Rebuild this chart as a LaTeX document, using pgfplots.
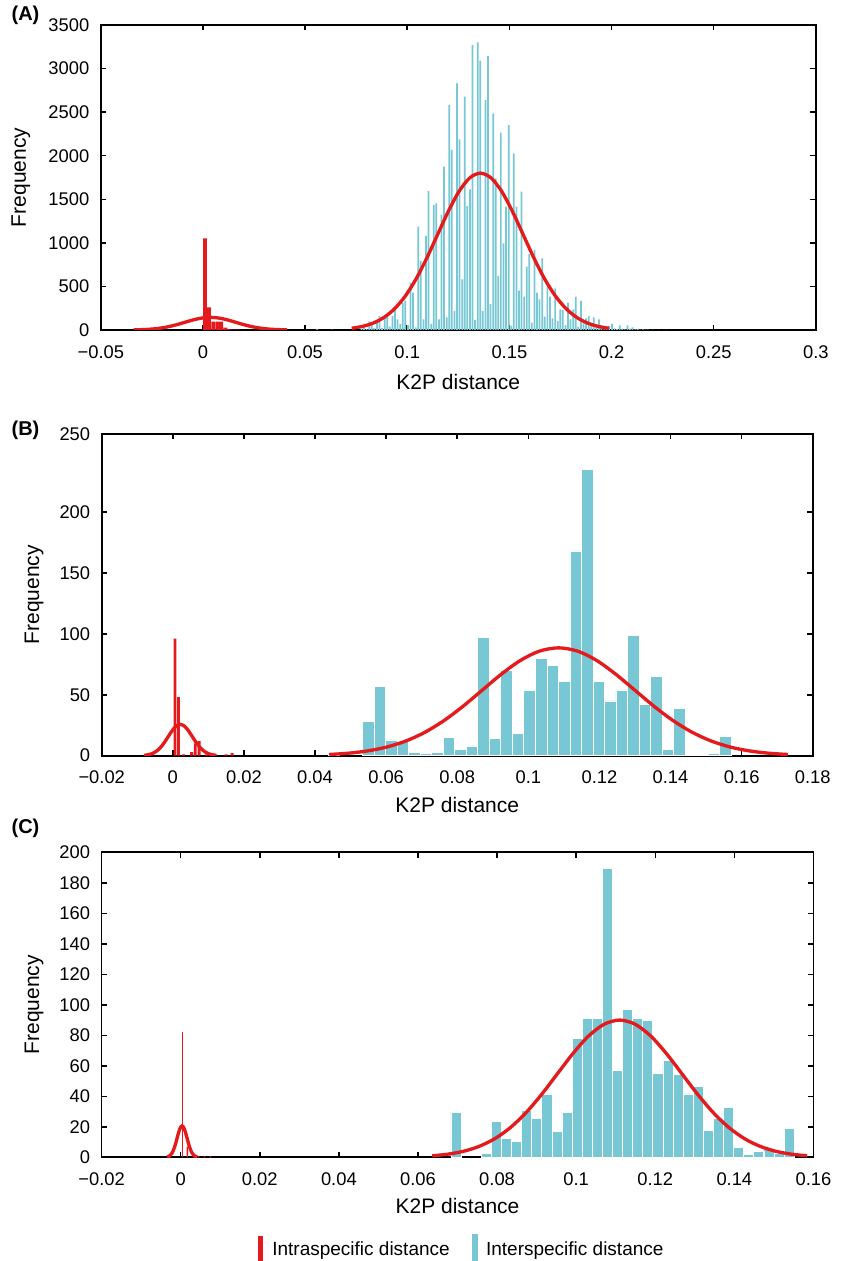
\documentclass[border=0pt]{standalone}
\usepackage{fontspec}
\setmainfont{Liberation Sans}
\usepackage{pgfplots}
\pgfplotsset{compat=1.18}
\definecolor{redc}{RGB}{228,26,28}
\definecolor{cyanc}{RGB}{120,199,212}
\pgfplotsset{
  panel/.style={
    scale only axis,
    anchor=north west,
    axis line style={line width=1pt},
    every tick/.style={black, line width=0.9pt},
    major tick length=3.2pt,
    tick align=inside,
    tick pos=both,
    ymin=0,
    tick label style={font=\fontsize{11}{13}\selectfont},
    label style={font=\fontsize{12.6}{15}\selectfont},
    yticklabel style={xshift=-3.4pt},
    xticklabel style={yshift=-5.7pt},
    xlabel={K2P distance}, ylabel={Frequency},
  },
  fitcurve/.style={redc, line width=2pt, smooth},
}
\begin{document}
\begin{tikzpicture}
\path[use as bounding box] (0,0) rectangle (505.2pt,-756.6pt);
% ---------------- (A)
\begin{axis}[panel, at={(60.48pt,-15pt)}, width=429pt, height=183pt,
  xmin=-0.05, xmax=0.3, ymax=3500,
  xtick={-0.05,0,0.05,0.1,0.15,0.2,0.25,0.3},
  xticklabels={−0.05,0,0.05,0.1,0.15,0.2,0.25,0.3},
  ytick={0,500,1000,1500,2000,2500,3000,3500},
  yticklabels={0,500,1000,1500,2000,2500,3000,3500},
  xlabel style={at={(axis description cs:0.5,-0.1705)}, anchor=center},
  ylabel style={at={(axis description cs:-0.1119,0.5)}, anchor=center},
]
\addplot[ybar, bar shift=0pt, bar width=0.00085, fill=cyanc, draw=none] coordinates {
(0.05600,10) (0.06300,5) (0.07759,15) (0.07885,27) (0.08012,10) (0.08138,100) (0.08264,75) (0.08391,20) (0.08517,100) (0.08644,160) (0.08770,20) (0.08896,145) (0.09023,160) (0.09149,38) (0.09276,160) (0.09402,237) (0.09528,122) (0.09655,69) (0.09781,314) (0.09908,333) (0.10034,57) (0.10160,543) (0.10287,428) (0.10413,31) (0.10540,1186) (0.10666,792) (0.10792,122) (0.10919,1079) (0.11045,1595) (0.11172,69) (0.11298,1434) (0.11424,1453) (0.11551,122) (0.11677,1320) (0.11804,1874) (0.11930,145) (0.12056,2582) (0.12183,2066) (0.12309,218) (0.12436,2831) (0.12562,2188) (0.12688,581) (0.12815,2678) (0.12941,1423) (0.13068,1614) (0.13194,3270) (0.13320,115) (0.13447,3301) (0.13573,3091) (0.13700,218) (0.13826,2639) (0.13952,3144) (0.14079,298) (0.14205,2486) (0.14332,1740) (0.14458,620) (0.14584,2264) (0.14711,994) (0.14837,1415) (0.14964,2352) (0.15090,46) (0.15216,2027) (0.15343,1415) (0.15469,451) (0.15596,1587) (0.15722,382) (0.15848,727) (0.15975,872) (0.16101,84) (0.16228,918) (0.16354,428) (0.16480,352) (0.16607,822) (0.16733,153) (0.16860,497) (0.16986,382) (0.17112,134) (0.17239,478) (0.17365,103) (0.17492,237) (0.17618,230) (0.17744,57) (0.17871,314) (0.17997,122) (0.18124,237) (0.18250,382) (0.18376,38) (0.18503,333) (0.18629,77) (0.18756,134) (0.18882,160) (0.19008,46) (0.19135,145) (0.19261,57) (0.19388,122) (0.19514,27) (0.19640,8) (0.19767,38) (0.19893,46) (0.20020,69) (0.20146,19) (0.20272,10) (0.20399,54) (0.20525,15) (0.20652,8) (0.20778,54) (0.20904,15) (0.21031,30) (0.21157,8) (0.21284,12) (0.21410,5) (0.21536,8) (0.21663,3) (0.21789,4) (0.22042,2) (0.22295,2) (0.22674,2)
};
\addplot[ybar, bar shift=0pt, bar width=0.0018, fill=redc, draw=none] coordinates {
(0.001,1050) (0.003,260) (0.005,96) (0.007,96) (0.009,96) (0.011,27) (0.013,8) (0.015,4) (0.017,3) (0.019,2)
};
\addplot[fitcurve] coordinates {
(-0.0339,1.61) (-0.030775,3.30) (-0.02765,6.37) (-0.024525,11.54) (-0.0214,19.62) (-0.018275,31.36) (-0.01515,47.07) (-0.012025,66.39) (-0.0089,87.95) (-0.005775,109.45) (-0.00265,127.96) (0.000475,140.54) (0.0036,145) (0.006725,140.54) (0.00985,127.96) (0.012975,109.45) (0.0161,87.95) (0.019225,66.39) (0.02235,47.07) (0.025475,31.36) (0.0286,19.62) (0.031725,11.54) (0.03485,6.37) (0.037975,3.30) (0.0411,1.61)
};
\addplot[fitcurve] coordinates {
(0.0728,20.0) (0.07805,41.0) (0.0833,79.1) (0.08855,143.2) (0.0938,243.6) (0.09905,389.3) (0.1043,584.4) (0.10955,824.1) (0.1148,1091.8) (0.12005,1358.7) (0.1253,1588.5) (0.13055,1744.6) (0.1358,1800) (0.14105,1744.6) (0.1463,1588.5) (0.15155,1358.7) (0.1568,1091.8) (0.16205,824.1) (0.1673,584.4) (0.17255,389.3) (0.1778,243.6) (0.18305,143.2) (0.1883,79.1) (0.19355,41.0) (0.1988,20.0)
};
\end{axis}
\node[font=\bfseries\fontsize{12}{14}\selectfont] at (15.3pt,-9pt) {(A)};
% ---------------- (B)
\begin{axis}[panel, at={(61.02pt,-260.4pt)}, width=426.6pt, height=193pt,
  xmin=-0.02, xmax=0.18, ymax=264,
  xtick={-0.02,0,0.02,0.04,0.06,0.08,0.1,0.12,0.14,0.16,0.18},
  xticklabels={−0.02,0,0.02,0.04,0.06,0.08,0.1,0.12,0.14,0.16,0.18},
  ytick={0,50,100,150,200,264},
  yticklabels={0,50,100,150,200,250},
  xlabel style={at={(axis description cs:0.5,-0.153)}, anchor=center},
  ylabel style={at={(axis description cs:-0.0952,0.5)}, anchor=center},
]
\addplot[ybar, bar shift=0pt, bar width=0.00324, fill=cyanc, draw=white, line width=0.4pt] coordinates {
(0.04528,1.6) (0.05500,28) (0.05824,57) (0.06148,13) (0.06472,12) (0.06796,3) (0.07120,1.6) (0.07444,3) (0.07768,15) (0.08092,5) (0.08416,8) (0.08740,97) (0.09064,14) (0.09388,70) (0.09712,18) (0.10036,54) (0.10360,80) (0.10684,74) (0.11008,61) (0.11332,168) (0.11656,235) (0.11980,61) (0.12304,45) (0.12628,54) (0.12952,99) (0.13276,42) (0.13600,65) (0.13924,5) (0.14248,39) (0.14572,0.5) (0.14896,0.5) (0.15220,1.6) (0.15544,16)
};
\addplot[ybar, bar shift=0pt, bar width=0.0008, fill=redc, draw=none] coordinates {
(0.0006,96) (0.0016,48) (0.0030,1) (0.0053,3) (0.0063,10) (0.0074,12) (0.0095,1) (0.0150,1) (0.0167,2)
};
\addplot[fitcurve] coordinates {
(-0.0081,0.29) (-0.00725,0.586) (-0.0064,1.13) (-0.00555,2.04) (-0.0047,3.48) (-0.00385,5.56) (-0.003,8.34) (-0.00215,11.77) (-0.0013,15.59) (-0.00045,19.40) (0.0004,22.68) (0.00125,24.91) (0.0021,25.7) (0.00295,24.91) (0.0038,22.68) (0.00465,19.40) (0.0055,15.59) (0.00635,11.77) (0.0072,8.34) (0.00805,5.56) (0.0089,3.48) (0.00975,2.04) (0.0106,1.13) (0.01145,0.586) (0.0123,0.29)
};
\addplot[fitcurve] coordinates {
(0.044,0.98) (0.049375,2.02) (0.05475,3.89) (0.060125,7.04) (0.0655,11.98) (0.070875,19.14) (0.07625,28.73) (0.081625,40.52) (0.087,53.68) (0.092375,66.80) (0.09775,78.10) (0.103125,85.78) (0.1085,88.5) (0.113875,85.78) (0.11925,78.10) (0.124625,66.80) (0.13,53.68) (0.135375,40.52) (0.14075,28.73) (0.146125,19.14) (0.1515,11.98) (0.156875,7.04) (0.16225,3.89) (0.167625,2.02) (0.173,0.98)
};
\end{axis}
\node[font=\bfseries\fontsize{12}{14}\selectfont] at (15.3pt,-258pt) {(B)};
% ---------------- (C)
\begin{axis}[panel, at={(60.96pt,-511.38pt)}, width=427.1pt, height=183pt,
  xmin=-0.02, xmax=0.16, ymax=200,
  xtick={-0.02,0,0.02,0.04,0.06,0.08,0.1,0.12,0.14,0.16},
  xticklabels={−0.02,0,0.02,0.04,0.06,0.08,0.1,0.12,0.14,0.16},
  ytick={0,20,40,60,80,100,120,140,160,180,200},
  yticklabels={0,20,40,60,80,100,120,140,160,180,200},
  xlabel style={at={(axis description cs:0.5,-0.161)}, anchor=center},
  ylabel style={at={(axis description cs:-0.095,0.5)}, anchor=center},
  legend style={at={(axis description cs:0.2197,-0.304)}, anchor=west, draw=none, fill=none,
    inner sep=0pt, outer sep=0pt, legend columns=2, font=\fontsize{11.4}{13}\selectfont,
    /tikz/every even column/.append style={column sep=11.2pt}},
  legend cell align=left,
]
\addlegendimage{legend image code/.code={\fill[redc, draw=none] (0pt,-8.7pt) rectangle (3pt,8.7pt); \path[draw=none, fill=none] (0pt,-0.1pt) rectangle (6.6pt,0.1pt);}}
\addlegendentry{Intraspecific distance}
\addlegendimage{legend image code/.code={\fill[cyanc, draw=none] (0pt,-9.6pt) rectangle (3.6pt,9.6pt); \path[draw=none, fill=none] (0pt,-0.1pt) rectangle (6.6pt,0.1pt);}}
\addlegendentry{Interspecific distance}
\addplot[forget plot, ybar, bar shift=0pt, bar width=0.002552, fill=cyanc, draw=white, line width=0.4pt] coordinates {
(0.06962,29.6) (0.07728,2.6) (0.07983,23.4) (0.08238,12.5) (0.08493,10.3) (0.08748,30.5) (0.09004,25.4) (0.09259,41.6) (0.09514,16.9) (0.09769,29.6) (0.10024,77.8) (0.10280,90.9) (0.10535,90.9) (0.10790,189.3) (0.11045,57) (0.11300,96.8) (0.11556,90.9) (0.11811,89.6) (0.12066,54.8) (0.12321,63.5) (0.12576,54.6) (0.12832,41.6) (0.13087,46.4) (0.13342,17.5) (0.13597,25.4) (0.13852,32.6) (0.14108,6.4) (0.14363,1.8) (0.14618,3.7) (0.14873,5.0) (0.15128,2.6) (0.15384,19.1)
};
\addplot[forget plot, ybar, bar shift=0pt, bar width=0.00028, fill=redc, draw=none] coordinates {
(0.00035,82.5)
};
\addplot[forget plot, ybar, bar shift=0pt, bar width=0.0004, fill=redc, draw=none] coordinates {
(0.0017,7) (0.0032,1) (0.0045,1) (0.0060,0.8) (0.0075,0.8)
};
\addplot[forget plot, fitcurve] coordinates {
(-0.00346,0.23) (-0.002825,0.905) (-0.00219,2.79) (-0.0018725,4.46) (-0.001555,6.69) (-0.0012375,9.43) (-0.00092,12.49) (-0.0006025,15.55) (-0.000285,18.18) (0.0000325,19.97) (0.00035,20.6) (0.0006675,19.97) (0.000985,18.18) (0.0013025,15.55) (0.00162,12.49) (0.0019375,9.43) (0.002255,6.69) (0.0025725,4.46) (0.00289,2.79) (0.003525,0.905) (0.00416,0.23)
};
\addplot[forget plot, fitcurve] coordinates {
(0.0636,1.0) (0.06755,2.05) (0.0715,3.95) (0.07545,7.16) (0.0794,12.18) (0.08335,19.46) (0.0873,29.22) (0.09125,41.20) (0.0952,54.59) (0.09915,67.94) (0.1031,79.43) (0.10705,87.23) (0.111,90) (0.11495,87.23) (0.1189,79.43) (0.12285,67.94) (0.1268,54.59) (0.13075,41.20) (0.1347,29.22) (0.13865,19.46) (0.1426,12.18) (0.14655,7.16) (0.1505,3.95) (0.15445,2.05) (0.1584,1.0)
};
\end{axis}
\node[font=\bfseries\fontsize{12}{14}\selectfont] at (15.3pt,-496.8pt) {(C)};
\end{tikzpicture}
\end{document}
